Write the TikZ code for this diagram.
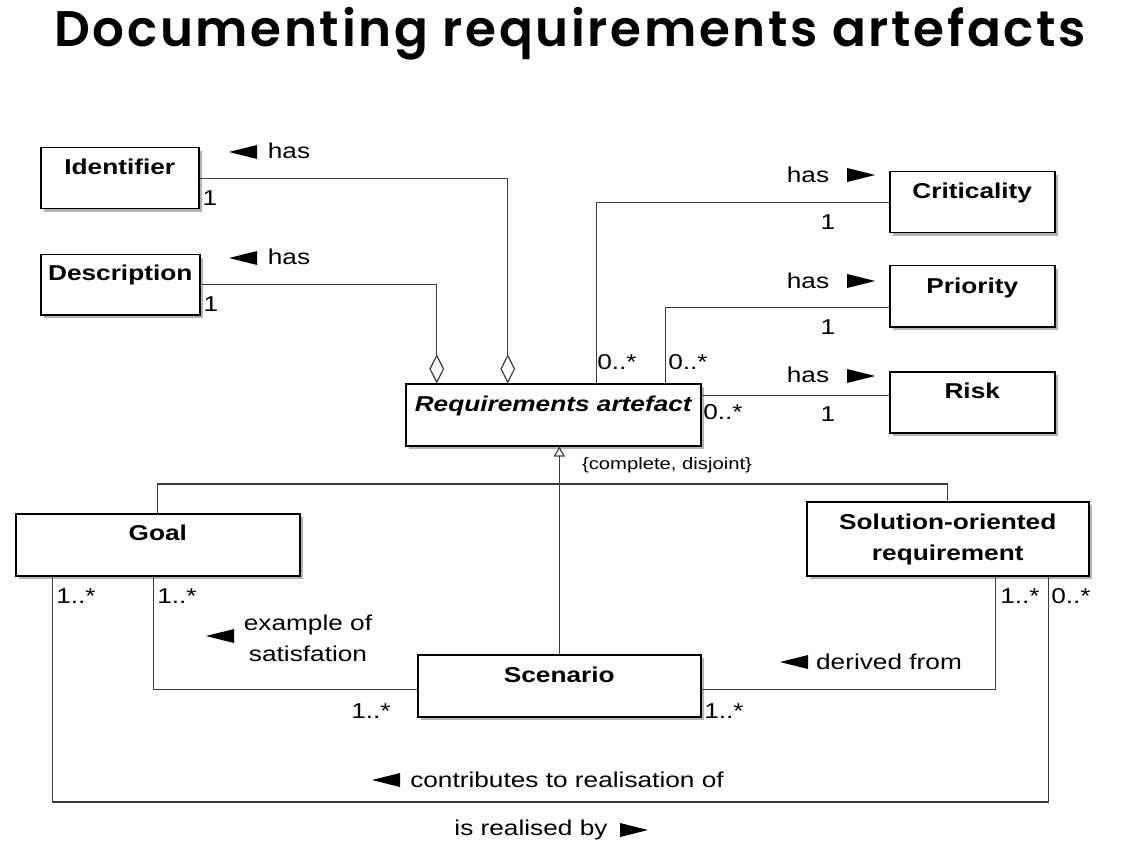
\documentclass[tikz,border=0pt]{standalone}
\usepackage{fontspec}
\setmainfont{Liberation Sans}[FakeStretch=1.22]
\newfontfamily\titlefont{Poppins}[BoldFont={Poppins SemiBold}, LetterSpace=5.3]
\usetikzlibrary{arrows.meta,shapes.geometric,shadows,calc}
\newcommand\lblfont{\fontsize{21.5}{31}\selectfont}
\newcommand\smallfont{\fontsize{16.6}{20}\selectfont}
\definecolor{lineg}{HTML}{3C3C3C}
\definecolor{shadowg}{HTML}{B4B4B4}
\begin{document}
\begin{tikzpicture}[x=1pt,y=-1pt,
  box/.style={draw=black, line width=1.5pt, fill=white, rectangle, inner sep=0pt, anchor=north west,
    general shadow={fill=shadowg, shadow xshift=3.5pt, shadow yshift=-3.5pt}},
  cname/.style={font=\lblfont\bfseries, inner sep=0pt, text height=15.4pt, text depth=0pt, anchor=center},
  lbl/.style={font=\lblfont, inner sep=0pt, anchor=center},
  mult/.style={font=\lblfont, inner sep=0pt, anchor=center},
  conn/.style={draw=lineg, line width=1.3pt},
  agg/.style={diamond, draw=lineg, line width=1.2pt, fill=white, inner sep=0pt, minimum width=14pt, minimum height=27pt, anchor=south},
  ltri/.pic={\fill (-14,0) -- (14,-7) -- (14,7) -- cycle;},
  rtri/.pic={\fill (14,0) -- (-14,-7) -- (-14,7) -- cycle;}
]
\useasboundingbox (0,0) rectangle (1133,853);
\fill[white] (0,0) rectangle (1133,853);

% title
\node[font=\titlefont\bfseries\fontsize{50}{58}\selectfont, inner sep=0pt] (title) at (570,34) {Documenting requirements artefacts};

% classes
\node[box, minimum width=158pt, minimum height=61pt] (ident) at (40,147) {};
\node[box, minimum width=159pt, minimum height=60pt] (desc) at (40,254) {};
\node[box, minimum width=165pt, minimum height=61pt] (crit) at (889,171) {};
\node[box, minimum width=165pt, minimum height=61pt] (prio) at (889,265) {};
\node[box, minimum width=165pt, minimum height=61pt] (risk) at (889,371) {};
\node[box, minimum width=295pt, minimum height=62pt] (ra) at (405,383) {};
\node[box, minimum width=284pt, minimum height=62pt] (goal) at (15,513) {};
\node[box, minimum width=282pt, minimum height=74pt] (sol) at (806,501) {};
\node[box, minimum width=283pt, minimum height=62pt] (scen) at (417,654) {};

\node[cname] (identT) at ($(ident.north)+(0,20)$) {Identifier};
\node[cname] (descT) at ($(desc.north)+(0,19)$) {Description};
\node[cname] (critT) at ($(crit.north)+(0,20)$) {Criticality};
\node[cname] (prioT) at ($(prio.north)+(0,21)$) {Priority};
\node[cname] (riskT) at ($(risk.north)+(0,20)$) {Risk};
\node[cname, font=\lblfont\bfseries\itshape] (raT) at ($(ra.north)+(0,21)$) {Requirements artefact};
\node[cname] (goalT) at ($(goal.north)+(0,20)$) {Goal};
\node[cname] (solT1) at ($(sol.north)+(0,21)$) {Solution-oriented};
\node[cname] (solT2) at ($(sol.north)+(0,52)$) {requirement};
\node[cname] (scenT) at ($(scen.north)+(0,21)$) {Scenario};

% aggregation diamonds
\node[agg] (d1) at ([xshift=-45.5pt]ra.north) {};
\node[agg] (d2) at ([xshift=-116.5pt]ra.north) {};

% associations
\draw[conn] (ident.east) -| (d1.north);
\draw[conn] (desc.east) -| (d2.north);
\draw[conn] (crit.west) -| ([xshift=43.5pt]ra.north);
\draw[conn] ([yshift=-11pt]prio.west) -| ([xshift=112.5pt]ra.north);
\draw[conn] ([yshift=6.7pt]risk.west) coordinate (rw) -- (rw -| ra.east);

% generalisation
\coordinate (gen) at (scen.north |- 0,484);
\draw[conn, -{Triangle[open, length=10pt, width=11pt, line width=1.1pt]}] (scen.north) -- (scen.north |- ra.south);
\draw[conn] (goal.north) |- (gen) -| (sol.north);

% lower associations
\draw[conn] ([xshift=-4pt]goal.south) |- ([yshift=-3.5pt]scen.west);
\draw[conn] ([yshift=-3.5pt]scen.east) -| ([xshift=48pt]sol.south);
\coordinate (low) at (550,802);
\draw[conn] ([xshift=-105pt]goal.south) |- (low) -| ([xshift=101pt]sol.south);

% association labels
\pic at (243,152) {ltri};
\node[lbl] (has1) at (289,151) {has};
\pic at (243,258) {ltri};
\node[lbl] (has2) at (289,257) {has};
\node[lbl] (has3) at (808,175) {has};
\pic at (861,175) {rtri};
\node[lbl] (has4) at (808,281) {has};
\pic at (861,281) {rtri};
\node[lbl] (has5) at (808,375) {has};
\pic at (861,376) {rtri};
\pic at (220,636) {ltri};
\node[lbl, align=center] (exof) at (308,638) {example of\\satisfation};
\pic at (794,662) {ltri};
\node[lbl] (derf) at (889,662) {derived from};
\pic at (386,780) {ltri};
\node[lbl] (contr) at (567,780) {contributes to realisation of};
\node[lbl] (isreal) at (531,830) {is realised by};
\pic at (634,830) {rtri};

\node[font=\smallfont, inner sep=0pt] (cd) at (667,465) {\{complete, disjoint\}};

% multiplicities
\node[mult] (m1) at (210,198) {1};
\node[mult] (m2) at (211,304) {1};
\node[mult] (m3) at (828,222) {1};
\node[mult] (m4) at (828,327) {1};
\node[mult] (m5) at (828,414) {1};
\node[mult] (m6) at (617,362) {0..*};
\node[mult] (m7) at (688,362) {0..*};
\node[mult] (m8) at (723,412) {0..*};
\node[mult] (m9) at (76,596) {1..*};
\node[mult] (m10) at (177,596) {1..*};
\node[mult] (m11) at (371,711) {1..*};
\node[mult] (m12) at (724,711) {1..*};
\node[mult] (m13) at (1020,596) {1..*};
\node[mult] (m14) at (1071,596) {0..*};
\end{tikzpicture}
\end{document}
